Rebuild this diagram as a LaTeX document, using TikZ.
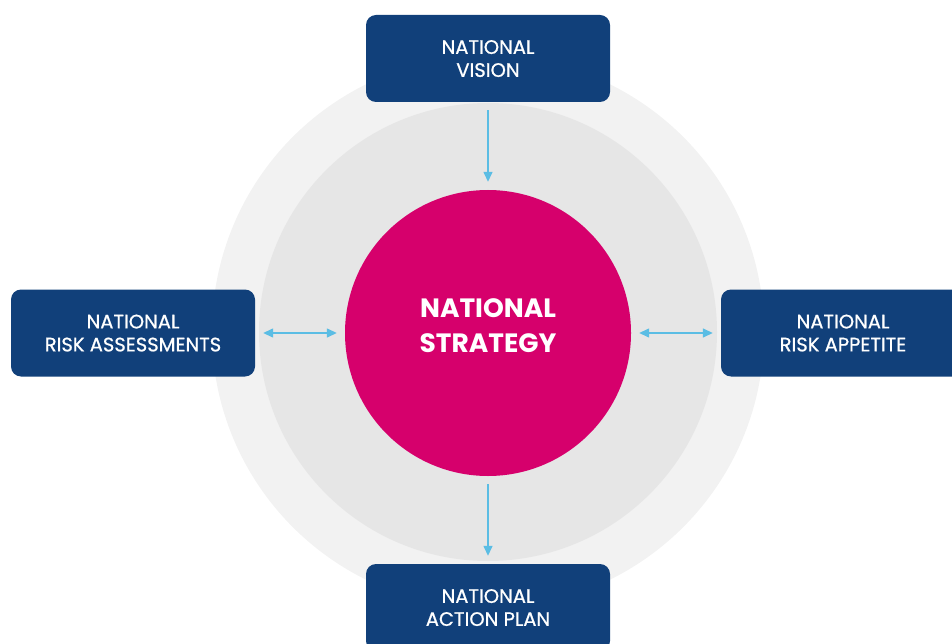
\documentclass[tikz,border=0pt]{standalone}
\usepackage{fontspec}
\setmainfont{Poppins}
\newfontfamily\cardfont{Poppins}[FakeBold=0.8]
\usetikzlibrary{arrows.meta}
\definecolor{navy}{HTML}{11407A}
\definecolor{magenta}{HTML}{D6006C}
\definecolor{ringout}{HTML}{F2F2F2}
\definecolor{ringin}{HTML}{E6E6E6}
\definecolor{sky}{HTML}{5BBDE4}
\tikzset{
  card/.style={fill=navy, rounded corners=10pt, minimum width=244pt, minimum height=87pt,
    inner sep=0pt, text=white, align=center, text depth=0pt,
    font=\cardfont\fontsize{19.5}{23}\selectfont},
  core/.style={circle, fill=magenta, minimum size=286pt, inner sep=0pt},
  coretext/.style={inner sep=0pt, text=white, align=center, text depth=0pt,
    font=\bfseries\fontsize{26.5}{35}\selectfont},
  flow/.style={draw=sky, line width=1.4pt, shorten <=8pt, shorten >=8pt,
    -{Triangle[length=10pt,width=9pt]}},
  dflow/.style={flow, {Triangle[length=10pt,width=9pt]}-{Triangle[length=10pt,width=9pt]}}
}
\begin{document}
\begin{tikzpicture}[x=1pt,y=-1pt]
  \useasboundingbox (0,0) rectangle (952,644);
  \clip (0,0) rectangle (952,644);
  % background rings
  \fill[ringout] (488,332) circle[radius=276pt];
  \fill[ringin] (488,332) circle[radius=229pt];
  % centre
  \node[core] (strategy) at (488,333) {};
  \node[coretext] (strategylabel) at (488,326) {NATIONAL\\STRATEGY};
  % surrounding cards
  \node[card] (vision) at (488,58.5) {NATIONAL\\VISION};
  \node[card] (assess) at (133,333) {NATIONAL\\RISK ASSESSMENTS};
  \node[card] (appetite) at (843,333) {NATIONAL\\RISK APPETITE};
  \node[card] (action) at (488,607.5) {NATIONAL\\ACTION PLAN};
  % connectors
  \draw[flow] (vision) -- (strategy);
  \draw[flow] (strategy) -- (action);
  \draw[dflow] (assess) -- (strategy);
  \draw[dflow] (strategy) -- (appetite);
\end{tikzpicture}
\end{document}
